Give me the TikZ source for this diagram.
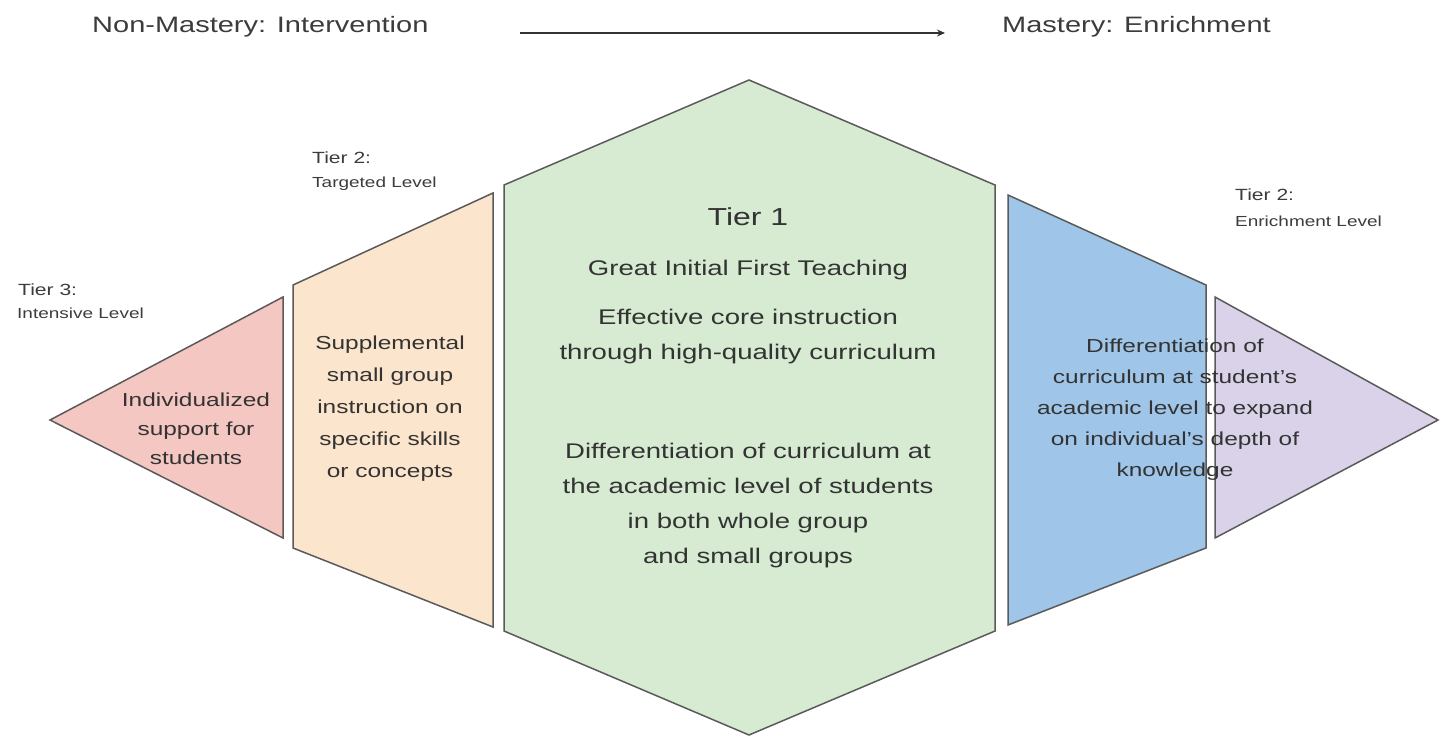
\documentclass[tikz,border=0pt]{standalone}
\usepackage{fontspec}
\setmainfont[FakeStretch=1.3]{Liberation Sans}
\usetikzlibrary{arrows.meta}
\definecolor{tpink}{HTML}{F4C7C3}
\definecolor{torange}{HTML}{FCE5CD}
\definecolor{tgreen}{HTML}{D6EBD2}
\definecolor{tblue}{HTML}{9FC5E8}
\definecolor{tpurple}{HTML}{D9D2E9}
\definecolor{edgec}{HTML}{5A5A5A}
\definecolor{txt}{HTML}{333333}
\definecolor{labc}{HTML}{3C3C3C}
\tikzset{
  tiershape/.style={draw=edgec, line width=1.5pt, line join=miter},
  body/.style={align=center, text=txt, inner sep=0pt, font=\fontsize{18.8}{31}\selectfont},
  hexbody/.style={align=center, text=txt, inner sep=0pt, font=\fontsize{21.2}{35}\selectfont},
  tierlab/.style={anchor=west, inner sep=0pt, text=labc, font=\fontsize{16.2}{20}\selectfont},
  levellab/.style={anchor=west, inner sep=0pt, text=labc, font=\fontsize{14.6}{18}\selectfont},
  toplab/.style={anchor=west, inner sep=0pt, text=labc, font=\fontsize{22.3}{28}\selectfont},
  flow/.style={draw=txt, line width=1.2pt, -{Stealth[length=8pt,width=7pt]}}
}
\begin{document}
\begin{tikzpicture}[x=1pt,y=-1pt]
\useasboundingbox[fill=white] (0,0) rectangle (1441,738);
% shapes
\filldraw[tiershape, fill=tpink] (50,420) -- (283,297) -- (283,538) -- cycle;
\filldraw[tiershape, fill=torange] (293,285) -- (493,193) -- (493,627) -- (293,548) -- cycle;
\filldraw[tiershape, fill=tgreen] (749,80) -- (995,185) -- (995,631) -- (749,735) -- (504,631) -- (504,185) -- cycle;
\filldraw[tiershape, fill=tblue] (1008,195) -- (1206,285) -- (1206,548) -- (1008,625) -- cycle;
\filldraw[tiershape, fill=tpurple] (1215,297) -- (1438,420) -- (1215,538) -- cycle;
% top labels
\node[toplab] (nonmastery) at (92,27) {Non-Mastery: Intervention};
\node[toplab] (mastery) at (1002,27) {Mastery: Enrichment};
\coordinate (arrS) at (520,33);
\coordinate (arrE) at (945,33);
\draw[flow] (arrS) -- (arrE);
% tier labels
\node[tierlab] (t3) at (18,290) {Tier 3:};
\node[levellab] (t3l) at (17,313) {Intensive Level};
\node[tierlab] (t2a) at (312,158) {Tier 2:};
\node[levellab] (t2al) at (312,184) {Targeted Level};
\node[tierlab] (t2b) at (1235,195) {Tier 2:};
\node[levellab] (t2bl) at (1235,221) {Enrichment Level};
% body texts
\node[body, font=\fontsize{18.8}{29}\selectfont] (pinktxt) at (196,429) {Individualized\\support for\\students};
\node[body, font=\fontsize{18.8}{32}\selectfont] (orangetxt) at (390,409) {Supplemental\\small group\\instruction on\\specific skills\\or concepts};
\node[hexbody, font=\fontsize{24.6}{30}\selectfont] (tier1) at (748,217) {Tier 1};
\node[hexbody] (great) at (748,270) {Great Initial First Teaching};
\node[hexbody] (effective) at (748,336.5) {Effective core instruction\\through high-quality curriculum};
\node[hexbody] (diff) at (748,506) {Differentiation of curriculum at\\the academic level of students\\in both whole group\\and small groups};
\node[body, font=\fontsize{18.8}{31}\selectfont] (bluetxt) at (1175,409.5) {Differentiation of\\curriculum at student's\\academic level to expand\\on individual's depth of\\knowledge};
\end{tikzpicture}
\end{document}
